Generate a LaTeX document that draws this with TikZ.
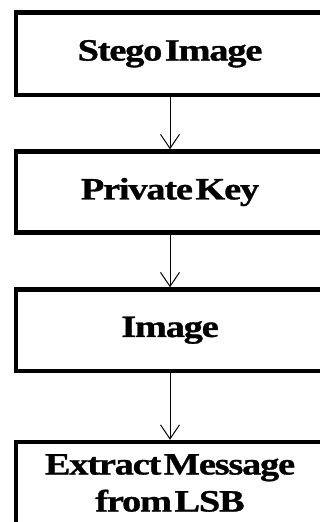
\documentclass[tikz,border=0pt]{standalone}
\usepackage{fontspec}
\setmainfont[FakeStretch=1.24,WordSpace=0.3,LetterSpace=-4,FakeBold=1]{Liberation Serif}
\usetikzlibrary{arrows.meta}
\begin{document}
\begin{tikzpicture}[x=1pt,y=-1pt,
  stepbox/.style={draw=black, line width=4.5pt, minimum width=308pt, inner sep=0pt,
    font=\fontsize{31}{37}\selectfont\bfseries, align=center, fill=white},
  flow/.style={draw=black, line width=1pt, -{Straight Barb[length=14pt,width=19pt]}}]
\useasboundingbox (0,0) rectangle (320,522);
\fill[white] (0,0) rectangle (320,522);
\begin{scope}
\clip (0,0) rectangle (320,522);
\node[stepbox, minimum height=82.5pt] (a) at (170,53.75) {Stego Image};
\node[stepbox, minimum height=81pt] (b) at (170,192) {Private Key};
\node[stepbox, minimum height=81.5pt] (c) at (170,330.25) {Image};
\node[stepbox, minimum height=82pt] (d) at (170,483) {Extract Message\\from LSB};
\draw[flow] (a) -- (b);
\draw[flow] (b) -- (c);
\draw[flow] (c) -- (d);
\end{scope}
\end{tikzpicture}
\end{document}
